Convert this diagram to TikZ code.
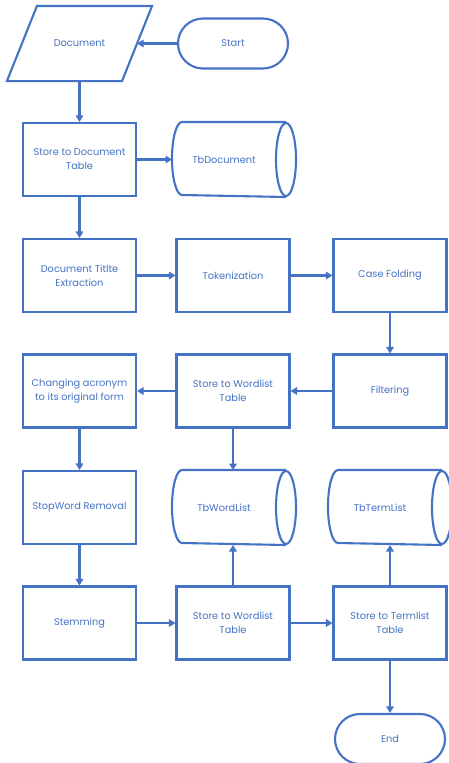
\documentclass[tikz,border=0pt]{standalone}
\usepackage{fontspec}
\setmainfont{Poppins}
\usetikzlibrary{arrows.meta}
\definecolor{fc}{RGB}{68,114,196}
\newcommand\drawcyl[1]{%
  \draw[ln] ([xshift=-10pt]#1.north east) -- ([xshift=10pt]#1.north west)
    arc[start angle=90,end angle=270,x radius=10pt,y radius=36.5pt]
    -- ([xshift=-10pt]#1.south east);
  \draw[ln] ([xshift=-10pt]#1.east) ellipse[x radius=10pt,y radius=36.5pt];}
\begin{document}
\begin{tikzpicture}[x=1pt,y=-1pt,
  ln/.style={draw=fc, line width=2.1pt},
  txt/.style={text=fc, font=\fontsize{9.8}{14}\selectfont, align=center, inner sep=0pt},
  proc/.style={ln, txt, rectangle, minimum width=113pt, minimum height=73pt},
  term/.style={ln, txt, rectangle, rounded corners=25pt, minimum width=110pt, minimum height=50pt},
  db/.style={txt, rectangle, minimum width=122pt, minimum height=73pt, outer sep=1pt},
  arr/.style={draw=fc, line width=2.1pt, -{Triangle[length=6.5pt,width=7.5pt]}}]
\useasboundingbox (0,0) rectangle (448,763);
% row 0
\node[proc, draw=none] (doc) at (79.5,43.5) {Document};
\draw[ln, line join=miter] ([xshift=-15pt]doc.south west) -- ([xshift=15pt]doc.north west) -- ([xshift=15pt]doc.north east) -- ([xshift=-15pt]doc.south east) -- cycle;
\node[term] (start) at (233,43.5) {Start};
% row 1
\node[proc] (sdt) at (79.5,159.5) {Store to Document\\Table};
\node[db] (tbdoc) at (234,159.5) {\hspace*{-20pt}TbDocument};
\drawcyl{tbdoc}
% row 2
\node[proc] (dte) at (79.5,275.5) {Document Titlte\\Extraction};
\node[proc] (tok) at (233,275.5) {Tokenization};
\node[proc] (cf) at (390,275.5) {Case Folding};
% row 3
\node[proc] (filt) at (390,391) {Filtering};
\node[proc] (swl) at (233,391) {Store to Wordlist\\Table};
\node[proc] (chg) at (79.5,391) {Changing acronym\\to its original form};
% row 4
\node[proc] (stop) at (79.5,507.5) {StopWord Removal};
\node[db] (tbw) at (234,507.5) {\hspace*{-20pt}TbWordList};
\drawcyl{tbw}
\node[db] (tbt) at (390,507.5) {\hspace*{-20pt}TbTermList};
\drawcyl{tbt}
% row 5
\node[proc] (stem) at (79.5,623) {Stemming};
\node[proc] (swl2) at (233,623) {Store to Wordlist\\Table};
\node[proc] (stl) at (390,623) {Store to Termlist\\Table};
% end
\node[term] (end) at (390,739) {End};
% connectors
\draw[arr] (start.west) -- (doc.east);
\draw[arr] (doc.south) -- (sdt.north);
\draw[arr] (sdt.east) -- (sdt.east -| tbdoc.west);
\draw[arr] (sdt.south) -- (dte.north);
\draw[arr] (dte.east) -- (tok.west);
\draw[arr] (tok.east) -- (cf.west);
\draw[arr] (cf.south) -- (filt.north);
\draw[arr] (filt.west) -- (swl.east);
\draw[arr] (swl.west) -- (chg.east);
\draw[arr] (swl.south) -- (swl.south |- tbw.north);
\draw[arr] (chg.south) -- (stop.north);
\draw[arr] (stop.south) -- (stem.north);
\draw[arr] (stem.east) -- (swl2.west);
\draw[arr] (swl2.north) -- (swl2.north |- tbw.south);
\draw[arr] (swl2.east) -- (stl.west);
\draw[arr] (stl.north) -- (stl.north |- tbt.south);
\draw[arr] (stl.south) -- (end.north);
\end{tikzpicture}
\end{document}
